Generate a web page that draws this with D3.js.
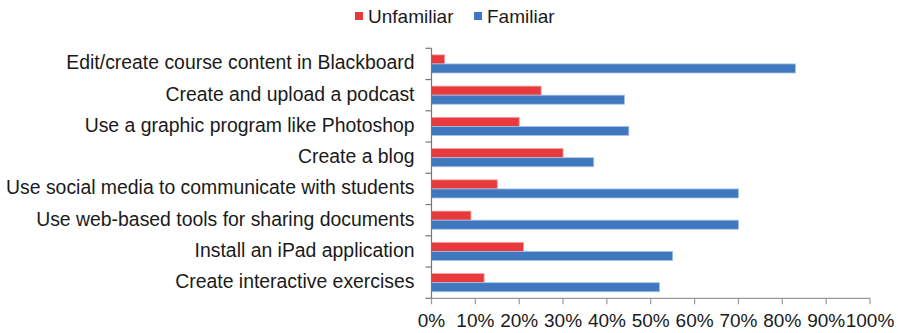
<!DOCTYPE html>
<html>
<head>
<meta charset="utf-8">
<script src="https://cdn.jsdelivr.net/npm/d3@7"></script>
<style>
body { margin: 0; background: #fff; }
svg { font-family: "Liberation Sans", Arial, sans-serif; }
</style>
</head>
<body>
<svg id="chart" width="898" height="333"></svg>
<script>
let categories = [
    "Edit/create course content in Blackboard",
    "Create and upload a podcast",
    "Use a graphic program like Photoshop",
    "Create a blog",
    "Use social media to communicate with students",
    "Use web-based tools for sharing documents",
    "Install an iPad application",
    "Create interactive exercises"
]
let unfamiliar = [3, 25, 20, 30, 15, 9, 21, 12]
let familiar = [83, 44, 45, 37, 70, 70, 55, 52]
let seriesNames = ["Unfamiliar", "Familiar"]
let colors = ["#e8393d", "#3f78be"]
let ticks = [0, 10, 20, 30, 40, 50, 60, 70, 80, 90, 100]

let svg = d3.select("#chart")
let plotL = 431.5, plotR = 870, plotT = 48.3, plotB = 298.3

let x = d3.scaleLinear().domain([0, 100]).range([plotL, plotR])
let y = d3.scaleBand().domain(categories).range([plotT, plotB]).paddingInner(0.42).paddingOuter(0.21)
let sub = d3.scaleBand().domain(seriesNames).range([0, y.bandwidth()])

let rows = categories.map((c, i) => ({ cat: c, vals: [unfamiliar[i], familiar[i]] }))

let g = svg.selectAll(".row").data(rows).enter().append("g")
    .attr("transform", d => "translate(0," + y(d.cat) + ")")

g.selectAll("rect").data(d => d.vals.map((v, k) => ({ v: v, k: k })))
    .enter().append("rect")
    .attr("x", x(0))
    .attr("y", d => sub(seriesNames[d.k]))
    .attr("width", d => x(d.v) - x(0))
    .attr("height", sub.bandwidth())
    .attr("fill", d => colors[d.k])
    .attr("stroke", d => d.k == 0 ? "#f3a0a2" : "#a9c2e3")
    .attr("stroke-width", 0.8)

// y axis
let yAxis = d3.scaleLinear().domain([0, categories.length]).range([plotT, plotB])
svg.append("line").attr("x1", plotL).attr("x2", plotL).attr("y1", plotT).attr("y2", plotB)
    .attr("stroke", "#777").attr("stroke-width", 1.2)
svg.selectAll(".ytick").data(d3.range(categories.length + 1)).enter().append("line")
    .attr("x1", plotL - 6).attr("x2", plotL)
    .attr("y1", d => yAxis(d)).attr("y2", d => yAxis(d))
    .attr("stroke", "#777").attr("stroke-width", 1.2)

svg.selectAll(".ylab").data(categories).enter().append("text")
    .attr("x", plotL - 17)
    .attr("y", d => y(d) + y.bandwidth() / 2)
    .attr("dy", "0.28em")
    .attr("text-anchor", "end")
    .attr("font-size", 19.4)
    .attr("fill", "#1a1a1a")
    .text(d => d)

// x axis
svg.append("line").attr("x1", plotL).attr("x2", plotR).attr("y1", plotB).attr("y2", plotB)
    .attr("stroke", "#999").attr("stroke-width", 1.2)
svg.selectAll(".xtick").data(ticks).enter().append("line")
    .attr("x1", d => x(d)).attr("x2", d => x(d))
    .attr("y1", plotB).attr("y2", plotB + 6)
    .attr("stroke", "#999").attr("stroke-width", 1.2)
svg.selectAll(".xlab").data(ticks).enter().append("text")
    .attr("x", d => x(d))
    .attr("y", 327)
    .attr("text-anchor", "middle")
    .attr("font-size", 19)
    .attr("fill", "#1a1a1a")
    .text(d => d + "%")

// legend
let legendX = [355, 474]
let lg = svg.selectAll(".leg").data(seriesNames).enter().append("g")
    .attr("transform", (d, i) => "translate(" + legendX[i] + ",0)")
lg.append("rect").attr("x", 0).attr("y", 12).attr("width", 8).attr("height", 8)
    .attr("fill", (d, i) => colors[i])
lg.append("text").attr("x", 13).attr("y", 22.5)
    .attr("font-size", 19).attr("fill", "#1a1a1a")
    .text(d => d)
</script>
</body>
</html>
